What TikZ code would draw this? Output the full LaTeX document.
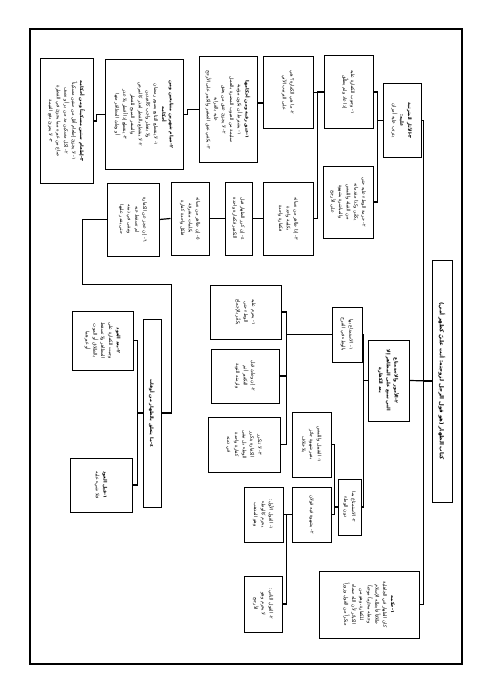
\documentclass[tikz,border=0pt]{standalone}
\usepackage{fontspec}
\newfontfamily\arabicfont[Script=Arabic]{DejaVu Sans}
\TeXXeTstate=1
\newcommand{\arln}[1]{\beginR#1\endR}
\newcommand{\hd}[1]{{\bfseries\beginR#1\endR}}

\begin{document}
\begin{tikzpicture}[x=2pt, y=2pt,
    box/.style={draw, line width=2pt, fill=white, align=center, inner sep=3pt,
                font=\arabicfont\fontsize{9.5}{15.5}\selectfont},
    link/.style={line width=2.4pt}]
  \begin{scope}[rotate=-90, transform shape]
    \fill[white] (0,0) rectangle (694,491);
    \useasboundingbox (0,0) rectangle (694,491);
    \draw[line width=2.6pt] (29,30) rectangle (664,462);

    % title and the three main branches
    \node[box, font=\arabicfont\bfseries\fontsize{11}{14}\selectfont,
          minimum width=484pt, minimum height=40pt] (book) at (381,442)
          {\arln{كتاب الظهار (هو قول الرجل لزوجته: أنت عليّ كظهر أمي)}};
    \node[box, minimum width=146pt, minimum height=76pt] (effects) at (120.5,402)
          {\hd{٣-الآثار المترتبة}\\ \hd{عليه:}\\ \arln{يترتب عليه أمران}};
    \node[box, minimum width=162pt, minimum height=82pt] (forbidden) at (380.5,388.5)
          {\hd{٢-الأمور والاستمتاع}\\ \hd{التي تمنع على المظاهر إلا}\\ \hd{بعد الكفارة}};
    \node[box, minimum width=134pt, minimum height=200pt] (ruling) at (604.5,369)
          {\hd{١-حكمه}\\ \arln{كان الظهار في الجاهلية}\\ \arln{طلاقاً فأبطله الإسلام}\\
           \arln{وجعله محرّماً موجباً}\\ \arln{للكفارة، وهو من}\\
           \arln{الكبائر لأن الله سماه}\\ \arln{منكراً من القول وزوراً}};

    % effects
    \node[box, minimum width=144pt, minimum height=98pt] (duty) at (92,348.5)
          {\arln{١- وجوب الكفارة عليه}\\ \arln{إذا عاد ولم يطلّق}};
    \node[box, minimum width=144pt, minimum height=100pt] (repeat) at (202,348)
          {\arln{٢- حرمة الوطء عليه حتى}\\ \arln{يكفّر، وكذا مقدماته}\\
           \arln{من القبلة واللمس}\\ \arln{والمباشرة بشهوة}\\ \arln{على الأرجح}};
    \node[box, minimum width=142pt, minimum height=100pt] (which) at (92.5,288)
          {\arln{٢- ما هي الكفارة؟ هي}\\ \arln{على الترتيب الآتي}};
    \node[box, minimum width=146pt, minimum height=100pt] (several) at (218.5,288)
          {\arln{٣- إذا ظاهر من نسائه}\\ \arln{بكلمة واحدة}\\ \arln{فكفارة واحدة}};

    % kinds of expiation
    \node[box, minimum width=210pt, minimum height=116pt] (freeing) at (109.5,228)
          {\hd{١-عتق رقبة ومن أحكامها}\\ \arln{١- يشترط أن تكون مؤمنة}\\
           \arln{سليمة من العيوب المضرة بالعمل}\\ \arln{٢- لا يجزئ عتق من يعتق}\\
           \arln{عليه بالقرابة}\\ \arln{٣- يكفي عتق الصغير والكبير على الأرجح}};
    \node[box, minimum width=218pt, minimum height=156pt] (fasting) at (114.5,144)
          {\hd{٢-صيام شهرين متتابعين ومن}\\ \hd{أحكامه}\\
           \arln{١- لا ينقطع التتابع بصوم رمضان}\\ \arln{ولا بفطر واجب كالعيدين}\\
           \arln{٢- لا ينقطع بالفطر لعذر كالمرض}\\ \arln{والسفر المبيح للفطر}\\
           \arln{٣- ينقطع إذا أفطر بلا عذر}\\ \arln{أو وطئ المظاهَر منها}};
    \node[box, minimum width=248pt, minimum height=106pt] (feeding) at (121,66.5)
          {\hd{٣-إطعام ستين مسكيناً ومن أحكامه}\\
           \arln{١- لا يجزئ إطعام أقل من ستين مسكيناً}\\
           \arln{٢- لكل مسكين مد من بر أو نصف}\\
           \arln{صاع من غيره مما يجزئ في الفطرة}\\ \arln{٣- لا يجزئ دفع القيمة}};

    % chain of further rulings
    \node[box, minimum width=146pt, minimum height=54pt] (again) at (218.5,238.5)
          {\arln{٤- إن كرر الظهار قبل}\\ \arln{التكفير فكفارة واحدة}};
    \node[box, minimum width=146pt, minimum height=76pt] (words) at (218.5,190)
          {\arln{٥- إن ظاهر من نسائه}\\ \arln{بكلمات متفرقة}\\ \arln{فلكل واحدة كفارة}};
    \node[box, minimum width=146pt, minimum height=104pt] (unable) at (219.5,133)
          {\arln{٦- إن عجز عن الكفارة}\\ \arln{لم تسقط عنه}\\
           \arln{وتبقى في ذمته}\\ \arln{حتى يقدر عليها}};
    \node[box, minimum width=376pt, minimum height=36pt] (times) at (413,152)
          {\hd{٤-ما يتعلق بالظهار من أوقات}};
    \node[box, minimum width=118pt, minimum height=122pt] (after) at (340.5,102.5)
          {\hd{٢-بعد العود}\\ \arln{وجبت الكفارة على}\\ \arln{المظاهر ولا تسقط}\\
           \arln{بالطلاق أو الموت}\\ \arln{أو غيرهما}};
    \node[box, minimum width=108pt, minimum height=124pt] (before) at (485,101)
          {\hd{١-قبل العود}\\ \arln{فلا شيء عليه}};

    % what is forbidden before expiation
    \node[box, minimum width=110pt, minimum height=60pt] (intercourse) at (334.5,347)
          {\arln{١- الاستمتاع بها}\\ \arln{بالوطء في الفرج}};
    \node[box, minimum width=108pt, minimum height=142pt] (touch) at (312,245.5)
          {\arln{١- يحرم عليه}\\ \arln{الوطء حتى}\\ \arln{يكفّر بالإجماع}};
    \node[box, minimum width=108pt, minimum height=136pt] (look) at (376,245)
          {\arln{٢- إن وطئ قبل}\\ \arln{التكفير أثم}\\ \arln{ولزمته التوبة}};
    \node[box, minimum width=110pt, minimum height=144pt] (kiss) at (444.5,244)
          {\arln{٣- لا تتكرر}\\ \arln{الكفارة بتكرر}\\ \arln{الوطء بل تبقى}\\
           \arln{كفارة واحدة}\\ \arln{في ذمته}};
    \node[box, minimum width=112pt, minimum height=46pt] (lesser) at (507,349.5)
          {\arln{٢- الاستمتاع بما}\\ \arln{دون الوطء}};
    \node[box, minimum width=130pt, minimum height=78pt] (other) at (444.5,311.5)
          {\arln{١- التقبيل واللمس}\\ \arln{بغير شهوة جائز}\\ \arln{بلا خلاف}};
    \node[box, minimum width=110pt, minimum height=78pt] (views) at (514.5,311.5)
          {\arln{٢- بشهوة فيه قولان}};
    \node[box, minimum width=110pt, minimum height=78pt] (first) at (514.5,263.5)
          {\arln{١- القول الأول:}\\ \arln{يحرم كالوطء}\\ \arln{وهو المذهب}};
    \node[box, minimum width=112pt, minimum height=76pt] (second) at (604,263)
          {\arln{٢- القول الثاني:}\\ \arln{لا يحرم وهو}\\ \arln{الأرجح}};

    % connectors
    \draw[link] (book.south) -- (forbidden.north);
    \draw[link] (book.south) -- ++(0,-8) -| (effects.north);
    \draw[link] (book.south) -- ++(0,-8) -| (ruling.north);
    \draw[link] (effects.south) -- ++(0,-5) -| (duty.north);
    \draw[link] (effects.south) -- ++(0,-5) -| (repeat.north);
    \draw[link] (duty.south) -- ++(0,-6) -| (which.north);
    \draw[link] (duty.south) -- ++(0,-6) -| (several.north);
    \draw[link] (which.south) ++(10.5,0) coordinate (wf) -- (wf |- freeing.north);
    \draw[link] (freeing.south) -- ++(0,-11) -| (fasting.north);
    \draw[link] (fasting.south) -- ++(0,-8) -| (feeding.north);
    \draw[link] (several.south) -- (again.north);
    \draw[link] (again.south) -- (words.north);
    \draw[link] (words.south) -- (unable.north);
    \draw[link] (unable.south) -- ++(0,-24) -- ++(65,0) -- ++(0,89) -| (times.north);
    \draw[link] (times.south) -- ++(0,-5) -| (after.north);
    \draw[link] (times.south) -- ++(0,-5) -| (before.north);
    \draw[link] (forbidden.south) -- ++(0,-4) -| (intercourse.north);
    \draw[link] (forbidden.south) -- ++(0,-4) -| (lesser.north);
    \draw[link] (intercourse.south) -- ++(0,-45) -| (touch.north);
    \draw[link] (intercourse.south) -- ++(0,-45) -| (look.north);
    \draw[link] (intercourse.south) -- ++(0,-45) -| (kiss.north);
    \draw[link] (lesser.south) -- ++(0,-3) -| (other.north);
    \draw[link] (lesser.south) -- ++(0,-3) -| (views.north);
    \draw[link] (views.south) -- (first.north);
    \draw[link] (views.south) -- ++(0,-5) -| (second.north);
  \end{scope}
\end{tikzpicture}
\end{document}
